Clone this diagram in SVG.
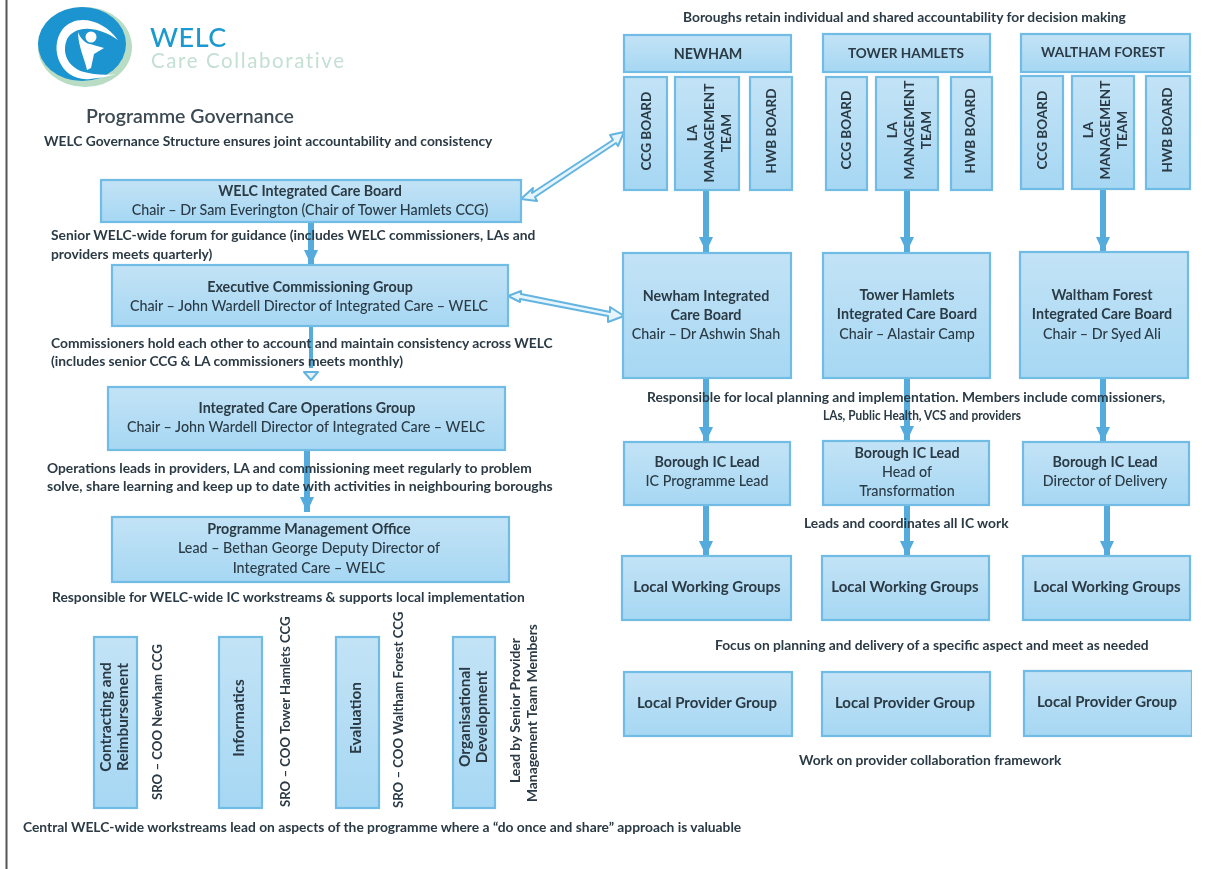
<svg xmlns="http://www.w3.org/2000/svg" width="1224" height="869" viewBox="0 0 1224 869">
<style>
text{font-family:"Lato","Open Sans","Liberation Sans",sans-serif;font-weight:700;fill:#2b3a44}
.c{text-anchor:middle}
.box{fill:url(#g);stroke:#6fbce5;stroke-width:2.2}
.r{font-weight:500}
.n{font-size:15px}
.t{font-size:14.3px}
.v{font-size:13.6px}
.s{font-size:13.8px}
.q{font-size:13.2px}
.w{font-size:15.4px}
.fat{stroke:#54acdc;stroke-width:6;fill:none;marker-end:url(#h)}
.hollow{fill:#e6f4fb;stroke:#63b4e0;stroke-width:2;stroke-linejoin:round}
</style>
<defs>
<linearGradient id="g" x1="0" y1="0" x2="0" y2="1"><stop offset="0" stop-color="#c3e3f6"/><stop offset="1" stop-color="#a6d7f3"/></linearGradient>
<marker id="h" markerUnits="userSpaceOnUse" markerWidth="18" markerHeight="14" refX="15" refY="7" orient="auto"><path d="M0 0L15 7L0 14Z" fill="#54acdc"/></marker>
<filter id="soft" x="0" y="0" width="100%" height="100%"><feGaussianBlur stdDeviation="0.45"/></filter>
</defs>
<rect x="5.5" y="0" width="2" height="869" fill="#555"/>
<g filter="url(#soft)">
<g id="logo">
<ellipse cx="85" cy="47" rx="47" ry="40" fill="#b9dcc4"/>
<ellipse cx="82" cy="44" rx="44" ry="37" fill="#1d94cf"/>
<path d="M118 40C104 20 76 12 62 30C48 50 62 82 90 79C100 78 110 76 116 74C104 76 92 74 84 72C70 68 62 56 66 42C70 28 92 22 118 40Z" fill="#fff"/>
<circle cx="91" cy="37" r="5.5" fill="#fff"/>
<path d="M78 32C80 38 86 44 90 44L104 48L94 54L91 68L87 70C85 60 78 46 78 32Z" fill="#fff"/>
<text x="150" y="47" style="font-size:27px;fill:#1a9ad0;font-weight:500;letter-spacing:.5px">WELC</text>
<text x="151" y="68" style="font-size:20.5px;fill:#c4dfd3;font-weight:400;letter-spacing:1.6px">Care Collaborative</text>
</g>
<g id="connectors">
<path class="fat" d="M311 222V265"/>
<path class="fat" d="M311 326V368" style="stroke-width:4;marker-end:none"/>
<path d="M304 372H318L311 380Z" class="hollow"/>
<path class="fat" d="M307 450V512"/>
<path class="fat" d="M706 190V252"/>
<path class="fat" d="M907 190V252"/>
<path class="fat" d="M1103 190V252"/>
<path class="fat" d="M706 378V442"/>
<path class="fat" d="M907 378V441"/>
<path class="fat" d="M1103 378V442"/>
<path class="fat" d="M706 505V556"/>
<path class="fat" d="M907 505V556"/>
<path class="fat" d="M1107 505V556"/>
<path class="hollow" d="M521 199L533 188L532 193L613 140L610 135L624 132L618 146L616 143L535 197L537 201Z"/>
<path class="hollow" d="M508 296L521 291L521 294L610 312L610 307L624 316L608 322L608 316L520 299L520 302Z"/>
</g>
<g id="title"><text x="86" y="123" style="font-size:19.5px;font-weight:600;fill:#3c4a52">Programme Governance</text>
<text x="44" y="146" class="s">WELC Governance Structure ensures joint accountability and consistency</text>
<text x="683" y="22" class="s">Boroughs retain individual and shared accountability for decision making</text></g>
<g id="n-icb"><rect class="box" x="101" y="180" width="420" height="42"/><text class="c t" x="310" y="196">WELC Integrated Care Board</text><text class="c t r" x="310" y="215">Chair – Dr Sam Everington (Chair of Tower Hamlets CCG)</text></g>
<text x="51" y="240" class="s">Senior WELC-wide forum for guidance (includes WELC commissioners, LAs and</text>
<text x="51" y="259" class="s">providers meets quarterly)</text>
<g id="n-ecg"><rect class="box" x="112" y="265" width="396" height="61"/><text class="c t" x="310" y="292">Executive Commissioning Group</text><text class="c t r" x="309" y="311">Chair – John Wardell Director of Integrated Care – WELC</text></g>
<text x="51" y="348" class="s">Commissioners hold each other to account and maintain consistency across WELC</text>
<text x="51" y="366" class="s">(includes senior CCG &amp; LA commissioners meets monthly)</text>
<g id="n-ops"><rect class="box" x="108" y="387" width="397" height="63"/><text class="c t" x="307" y="413">Integrated Care Operations Group</text><text class="c t r" x="306" y="432">Chair – John Wardell Director of Integrated Care – WELC</text></g>
<text x="47" y="473" class="s">Operations leads in providers, LA and commissioning meet regularly to problem</text>
<text x="47" y="491" class="s" style="font-size:14px">solve, share learning and keep up to date with activities in neighbouring boroughs</text>
<g id="n-pmo"><rect class="box" x="112" y="517" width="397" height="65"/><text class="c t" x="309" y="534">Programme Management Office</text><text class="c t r" x="309" y="553">Lead – Bethan George Deputy Director of</text><text class="c t r" x="309" y="573">Integrated Care – WELC</text></g>
<text x="52" y="602" class="s">Responsible for WELC-wide IC workstreams &amp; supports local implementation</text>
<g id="ws1"><rect class="box" x="94" y="637" width="43" height="171"/><g transform="translate(115 717) rotate(-90)"><text class="c w" y="-4">Contracting and</text><text class="c w" y="13">Reimbursement</text></g><text class="q" transform="translate(162 800) rotate(-90)">SRO – COO Newham CCG</text></g>
<g id="ws2"><rect class="box" x="219" y="637" width="43" height="171"/><text class="c w" transform="translate(244 718) rotate(-90)">Informatics</text><text class="q" transform="translate(290 807) rotate(-90)">SRO – COO Tower Hamlets CCG</text></g>
<g id="ws3"><rect class="box" x="336" y="637" width="43" height="171"/><text class="c w" transform="translate(361 718) rotate(-90)">Evaluation</text><text class="q" transform="translate(403 808) rotate(-90)">SRO – COO Waltham Forest CCG</text></g>
<g id="ws4"><rect class="box" x="453" y="637" width="42" height="171"/><g transform="translate(474 717) rotate(-90)"><text class="c w" y="-4">Organisational</text><text class="c w" y="13">Development</text></g><text class="s" transform="translate(520 783) rotate(-90)">Lead by Senior Provider</text><text class="s" transform="translate(537 802) rotate(-90)">Management Team Members</text></g>
<text x="23" y="832" class="s">Central WELC-wide workstreams lead on aspects of the programme where a “do once and share” approach is valuable</text>
<g id="b1"><rect class="box" x="624" y="35" width="167" height="37"/><text class="c t" x="708" y="59">NEWHAM</text></g>
<g id="b2"><rect class="box" x="823" y="34" width="167" height="38"/><text class="c v" x="906" y="58">TOWER HAMLETS</text></g>
<g id="b3"><rect class="box" x="1021" y="34" width="169" height="38"/><text class="c v" x="1103" y="57">WALTHAM FOREST</text></g>
<g id="b1-ccg"><rect class="box" x="624" y="77" width="43" height="113"/><text class="c v" transform="translate(651 131) rotate(-90)">CCG BOARD</text></g>
<g id="b1-la"><rect class="box" x="675" y="77" width="64" height="113"/><g transform="translate(707 133) rotate(-90)"><text class="c v" y="-10">LA</text><text class="c v" y="7">MANAGEMENT</text><text class="c v" y="24">TEAM</text></g></g>
<g id="b1-hwb"><rect class="box" x="750" y="77" width="42" height="113"/><text class="c v" transform="translate(776 131) rotate(-90)">HWB BOARD</text></g>
<g id="b2-ccg"><rect class="box" x="826" y="77" width="41" height="113"/><text class="c v" transform="translate(851 130) rotate(-90)">CCG BOARD</text></g>
<g id="b2-la"><rect class="box" x="876" y="77" width="62" height="113"/><g transform="translate(907 130) rotate(-90)"><text class="c v" y="-10">LA</text><text class="c v" y="7">MANAGEMENT</text><text class="c v" y="24">TEAM</text></g></g>
<g id="b2-hwb"><rect class="box" x="951" y="77" width="41" height="113"/><text class="c v" transform="translate(975 131) rotate(-90)">HWB BOARD</text></g>
<g id="b3-ccg"><rect class="box" x="1021" y="76" width="42" height="113"/><text class="c v" transform="translate(1047 130) rotate(-90)">CCG BOARD</text></g>
<g id="b3-la"><rect class="box" x="1072" y="76" width="62" height="113"/><g transform="translate(1103 130) rotate(-90)"><text class="c v" y="-10">LA</text><text class="c v" y="7">MANAGEMENT</text><text class="c v" y="24">TEAM</text></g></g>
<g id="b3-hwb"><rect class="box" x="1146" y="76" width="44" height="113"/><text class="c v" transform="translate(1172 130) rotate(-90)">HWB BOARD</text></g>
<g id="b1-icb"><rect class="box" x="623" y="253" width="168" height="125"/><text class="c t" x="706" y="301">Newham Integrated</text><text class="c t" x="706" y="320">Care Board</text><text class="c t r" x="706" y="339">Chair – Dr Ashwin Shah</text></g>
<g id="b2-icb"><rect class="box" x="823" y="253" width="167" height="125"/><text class="c t" x="907" y="300">Tower Hamlets</text><text class="c t" x="907" y="319">Integrated Care Board</text><text class="c t r" x="907" y="339">Chair – Alastair Camp</text></g>
<g id="b3-icb"><rect class="box" x="1020" y="252" width="168" height="126"/><text class="c t" x="1102" y="300">Waltham Forest</text><text class="c t" x="1102" y="319">Integrated Care Board</text><text class="c t r" x="1102" y="339">Chair – Dr Syed Ali</text></g>
<text x="647" y="402" class="s">Responsible for local planning and implementation. Members include commissioners,</text>
<text x="823" y="420" style="font-size:13.2px" textLength="198" lengthAdjust="spacingAndGlyphs">LAs, Public Health, VCS and providers</text>
<g id="b1-lead"><rect class="box" x="624" y="442" width="166" height="63"/><text class="c t" x="707" y="467">Borough IC Lead</text><text class="c t r" x="707" y="486">IC Programme Lead</text></g>
<g id="b2-lead"><rect class="box" x="823" y="441" width="166" height="64"/><text class="c t" x="907" y="458">Borough IC Lead</text><text class="c t r" x="907" y="477">Head of</text><text class="c t r" x="907" y="496">Transformation</text></g>
<g id="b3-lead"><rect class="box" x="1023" y="442" width="166" height="63"/><text class="c t" x="1105" y="467">Borough IC Lead</text><text class="c t r" x="1105" y="486">Director of Delivery</text></g>
<text x="804" y="528" class="s">Leads and coordinates all IC work</text>
<g id="b1-lwg"><rect class="box" x="622" y="556" width="169" height="64"/><text class="c n" x="707" y="592">Local Working Groups</text></g>
<g id="b2-lwg"><rect class="box" x="822" y="556" width="167" height="64"/><text class="c n" x="905" y="592">Local Working Groups</text></g>
<g id="b3-lwg"><rect class="box" x="1023" y="556" width="167" height="64"/><text class="c n" x="1107" y="592">Local Working Groups</text></g>
<text x="715" y="650" class="s">Focus on planning and delivery of a specific aspect and meet as needed</text>
<g id="b1-lpg"><rect class="box" x="624" y="672" width="168" height="64"/><text class="c n" x="707" y="708">Local Provider Group</text></g>
<g id="b2-lpg"><rect class="box" x="822" y="672" width="168" height="64"/><text class="c n" x="905" y="708">Local Provider Group</text></g>
<g id="b3-lpg"><rect class="box" x="1024" y="671" width="168" height="65"/><text class="c n" x="1107" y="707">Local Provider Group</text></g>
<text x="799" y="765" class="s">Work on provider collaboration framework</text>
</g>
</svg>
